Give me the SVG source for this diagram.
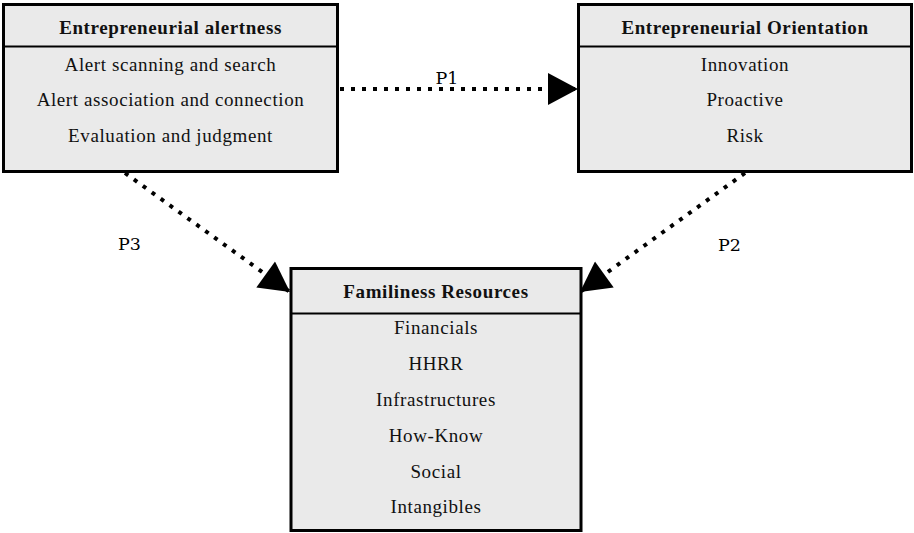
<svg xmlns="http://www.w3.org/2000/svg" width="914" height="533" viewBox="0 0 914 533">
<style>
.box{fill:#eaeaea;stroke:#000;stroke-width:3}
.div{stroke:#000;stroke-width:2}
.t{font-family:"Liberation Serif","Times New Roman",serif;font-size:19px;letter-spacing:0.6px;fill:#111;text-anchor:middle}
.h{font-weight:bold}
.p{font-family:"DejaVu Serif","Liberation Serif",serif;font-size:17.5px;fill:#000;text-anchor:middle}
.c{fill:none;stroke:#000;stroke-width:4;stroke-dasharray:4 7}
</style>
<defs>
<marker id="ah" markerUnits="userSpaceOnUse" markerWidth="32" markerHeight="32" viewBox="0 0 30 32" refX="30" refY="16" orient="auto">
<path d="M0,0 L30,16 L0,32 Z" fill="#000"/>
</marker>
</defs>
<g id="connectors">
<line class="c" x1="340" y1="89" x2="578" y2="89" marker-end="url(#ah)"/>
<line class="c" x1="125" y1="173" x2="290" y2="292" marker-end="url(#ah)"/>
<line class="c" x1="745" y1="173" x2="580" y2="292" marker-end="url(#ah)"/>
<text class="p" x="447" y="84">P1</text>
<text class="p" x="129.5" y="250">P3</text>
<text class="p" x="729.5" y="251">P2</text>
</g>
<g id="alertness">
<rect class="box" x="3.5" y="4.5" width="334" height="167"/>
<line class="div" x1="3.5" y1="46.5" x2="337.5" y2="46.5"/>
<text class="t h" x="170.5" y="34">Entrepreneurial alertness</text>
<text class="t" x="170.5" y="71">Alert scanning and search</text>
<text class="t" x="170.5" y="106">Alert association and connection</text>
<text class="t" x="170.5" y="142">Evaluation and judgment</text>
</g>
<g id="orientation">
<rect class="box" x="578.5" y="4.5" width="333" height="167"/>
<line class="div" x1="578.5" y1="46.5" x2="911.5" y2="46.5"/>
<text class="t h" x="745" y="34">Entrepreneurial Orientation</text>
<text class="t" x="745" y="71">Innovation</text>
<text class="t" x="745" y="106">Proactive</text>
<text class="t" x="745" y="142">Risk</text>
</g>
<g id="familiness">
<rect class="box" x="291" y="268.5" width="290" height="262"/>
<line class="div" x1="291" y1="313.5" x2="581" y2="313.5"/>
<text class="t h" x="436" y="298">Familiness Resources</text>
<text class="t" x="436" y="334">Financials</text>
<text class="t" x="436" y="370">HHRR</text>
<text class="t" x="436" y="406">Infrastructures</text>
<text class="t" x="436" y="442">How-Know</text>
<text class="t" x="436" y="478">Social</text>
<text class="t" x="436" y="513">Intangibles</text>
</g>
</svg>
